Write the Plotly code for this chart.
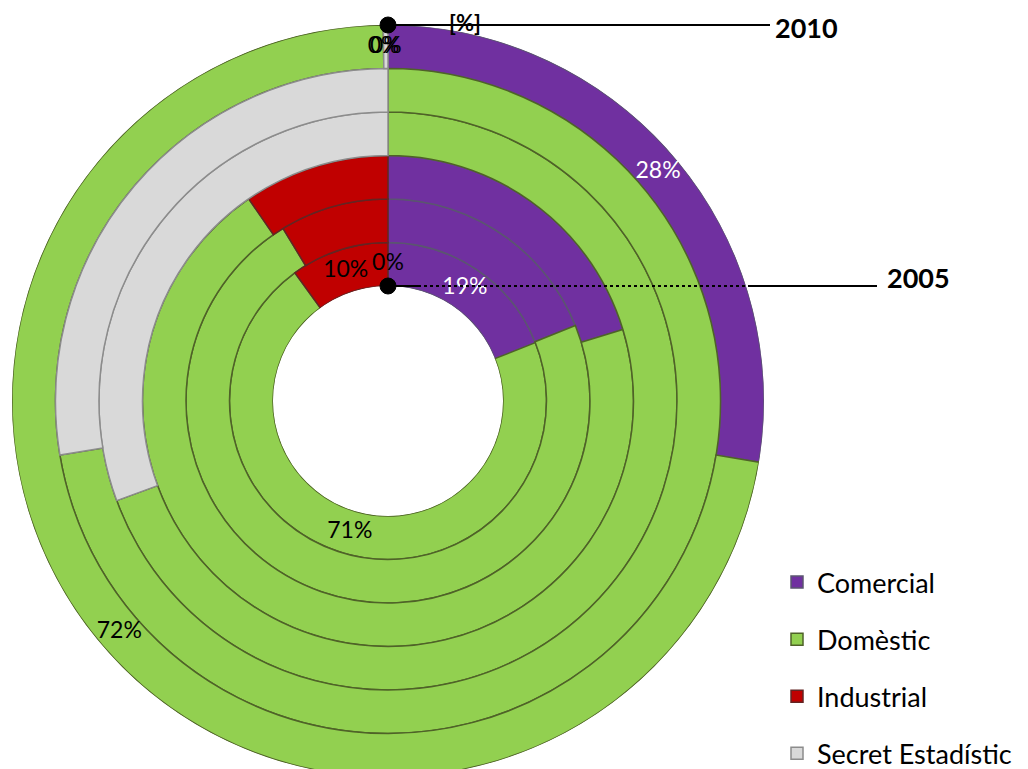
import numpy as np
import plotly.graph_objects as go

# Shares by sector, one ring per year (inner 2005 -> outer 2010), in %
years = ['2005', '2006', '2007', '2008', '2009', '2010']
categories = ['Comercial', 'Domèstic', 'Industrial', 'Secret Estadístic']
comercial = [19.0, 18.9, 20.3, 0.0, 0.0, 27.6]
domestic = [71.0, 72.4, 70.1, 69.4, 72.4, 72.2]
industrial = [10.0, 8.7, 9.6, 0.0, 0.0, 0.0]
secret = [0.0, 0.0, 0.0, 30.6, 27.6, 0.2]
labelled_years = ['2005', '2010']

colors = ['#7030A0', '#92D050', '#C00000', '#D9D9D9']
edge_colors = ['#5B5570', '#4F6228', '#632523', '#8C8C8C']
text_colors = ['white', 'black', 'black', 'black']

# geometry, in page pixels (the page body adds an 8px offset)
W, H = 1028, 775
OFF = 8
cx, cy = 388, 401
r_hole = 115
ring_w = 43.5
r_outer = r_hole + ring_w * len(years)


def px(x):
    return (x - OFF) / W


def py(y):
    return 1 - (y - OFF) / H


# angular extent of every slice (degrees, clockwise from 12 o'clock)
shares = np.array([comercial, domestic, industrial, secret])
span = shares / shares.sum(axis=0) * 360
start = np.cumsum(span, axis=0) - span
mid = start + span / 2
ring = np.arange(len(years))

fig = go.Figure()

for k, name in enumerate(categories):
    fig.add_trace(go.Barpolar(
        name=name,
        legendgroup=name,
        theta=mid[k],
        width=span[k],
        base=ring,
        r=np.ones(len(years)),
        customdata=shares[k],
        text=years,
        hovertemplate='%{text}: %{customdata}%<extra>' + name + '</extra>',
        marker=dict(color=colors[k], line=dict(color=edge_colors[k], width=1.5)),
    ))

# value labels on the 2005 and 2010 rings
for year in labelled_years:
    i = years.index(year)
    fig.add_trace(go.Scatterpolar(
        r=np.full(len(categories), i + 0.5),
        theta=mid[:, i],
        mode='text',
        text=['%.0f%%' % v for v in shares[:, i]],
        textposition='middle center',
        textfont=dict(family='Lato', size=23, color=text_colors),
        showlegend=False,
        hoverinfo='skip',
    ))

y10 = cy - r_outer
y05 = cy - r_hole

shapes = [
    dict(type='line', x0=px(cx), x1=px(770), y0=py(y10), y1=py(y10),
         line=dict(color='black', width=2)),
    dict(type='circle', x0=px(cx - 8), x1=px(cx + 8), y0=py(y10 - 8), y1=py(y10 + 8),
         fillcolor='black', line=dict(color='black', width=1)),
    dict(type='line', x0=px(cx), x1=px(418), y0=py(y05), y1=py(y05),
         line=dict(color='black', width=2)),
    dict(type='line', x0=px(418), x1=px(748), y0=py(y05), y1=py(y05),
         line=dict(color='black', width=2, dash='dot')),
    dict(type='line', x0=px(748), x1=px(877), y0=py(y05), y1=py(y05),
         line=dict(color='black', width=2)),
    dict(type='circle', x0=px(cx - 8), x1=px(cx + 8), y0=py(y05 - 8), y1=py(y05 + 8),
         fillcolor='black', line=dict(color='black', width=1)),
]
for s in shapes:
    s.update(xref='paper', yref='paper', layer='above')

annotations = [
    dict(text='<b>2010</b>', x=px(773), y=py(y10 + 2), xanchor='left', yanchor='middle',
         font=dict(size=27)),
    dict(text='<b>2005</b>', x=px(885), y=py(y05 - 9), xanchor='left', yanchor='middle',
         font=dict(size=27)),
    dict(text='<b>[%]</b>', x=px(465), y=py(y10 - 3), xanchor='center', yanchor='middle',
         font=dict(size=22)),
]
for a in annotations:
    a.update(xref='paper', yref='paper', showarrow=False)
    a['font'].update(family='Lato', color='black')

fig.update_layout(
    width=W, height=H,
    margin=dict(l=0, r=0, t=0, b=0),
    paper_bgcolor='white',
    polar=dict(
        domain=dict(x=[px(cx - r_outer), px(cx + r_outer)],
                    y=[py(cy + r_outer), py(cy - r_outer)]),
        hole=r_hole / r_outer,
        bgcolor='rgba(0,0,0,0)',
        barmode='overlay',
        radialaxis=dict(range=[0, len(years)], visible=False),
        angularaxis=dict(rotation=90, direction='clockwise', visible=False),
    ),
    shapes=shapes,
    annotations=annotations,
    legend=dict(x=px(777), y=py(558), xanchor='left', yanchor='top',
                font=dict(family='Lato', size=27, color='black'),
                tracegroupgap=19, bgcolor='rgba(0,0,0,0)'),
)

fig.write_html("out.html")
